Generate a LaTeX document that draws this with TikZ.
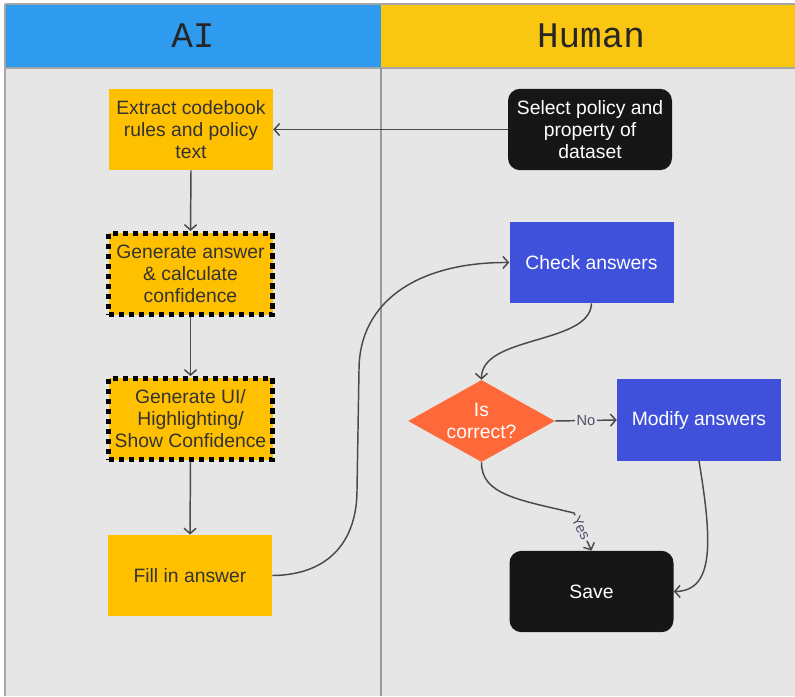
\documentclass[tikz,border=0pt]{standalone}
\usepackage{fontspec}
\setmainfont{Liberation Sans}
\newfontfamily\lanefont{Liberation Mono}
\usetikzlibrary{shapes.geometric,arrows.meta}
\definecolor{laneblue}{HTML}{2E9BEF}
\definecolor{laneyellow}{HTML}{F9C712}
\definecolor{lanegray}{HTML}{E6E6E6}
\definecolor{boxyellow}{HTML}{FFC000}
\definecolor{boxblue}{HTML}{3F51DB}
\definecolor{boxorange}{HTML}{FF6838}
\definecolor{boxblack}{HTML}{161616}
\definecolor{linkgray}{HTML}{4A4A4A}
\definecolor{labelgray}{HTML}{50506E}

\begin{document}
\begin{tikzpicture}[x=0.75pt,y=-0.75pt,
  box/.style={minimum width=123pt,minimum height=61pt,inner sep=2pt,align=center,
    font=\fontsize{14.5}{16.5}\selectfont},
  aibox/.style={box,fill=boxyellow,text=black!80},
  checkbox/.style={aibox,draw=black,line width=3.5pt,dash pattern=on 4pt off 3.5pt},
  humanbox/.style={box,fill=boxblue,text=white},
  darkbox/.style={box,fill=boxblack,text=white,rounded corners=9pt},
  decision/.style={shape=diamond,aspect=1.8,inner sep=0pt,minimum width=110pt,minimum height=61.5pt,
    fill=boxorange,text=white,align=center,font=\fontsize{14.5}{16.5}\selectfont},
  link/.style={draw=linkgray,line width=1.1pt,-{Straight Barb[length=4pt,width=9pt]}},
  lbl/.style={fill=lanegray,text=labelgray,inner sep=1.5pt,font=\fontsize{11}{12}\selectfont}]
\useasboundingbox (0,0) rectangle (795,696);

% lanes
\fill[laneblue] (5,4) rectangle (381,68);
\fill[laneyellow] (381,4) rectangle (795,68);
\fill[lanegray] (5,68) rectangle (795,696);
\draw[black!35,line width=0.8pt] (5,4) -- (795,4);
\draw[black!35,line width=0.8pt] (5,68) -- (795,68);
\draw[black!35,line width=0.8pt] (5,4) -- (5,696);
\draw[black!40,line width=1.1pt] (381,68) -- (381,696);
\node[font=\lanefont\fontsize{27}{30}\selectfont,text=black!85] (ai) at (193,36) {AI};
\node[font=\lanefont\fontsize{27}{30}\selectfont,text=black!85] (human) at (591,36) {Human};

% AI lane
\node[aibox] (extract) at (191,129.5) {Extract codebook\\rules and policy\\text};
\node[checkbox] (genanswer) at (190.5,274) {Generate answer\\\& calculate\\confidence};
\node[checkbox] (genui) at (190.5,419) {Generate UI/\\Highlighting/\\Show Confidence};
\node[aibox] (fillin) at (190,575.5) {Fill in answer};

% Human lane
\node[darkbox] (select) at (590,129.5) {Select policy and\\property of\\dataset};
\node[humanbox] (checkans) at (591.5,262.5) {Check answers};
\node[decision] (iscorrect) at (481.5,421) {Is\\correct?};
\node[humanbox] (modify) at (699,420) {Modify answers};
\node[darkbox] (save) at (591.5,591.5) {Save};

% connectors
\draw[link] (select) -- (extract);
\draw[link] (extract.south) -- (genanswer.north);
\draw[link] (genanswer.south) -- (genui.north);
\draw[link] (genui.south) -- (fillin.north);
\draw[link] (fillin.east) .. controls (330,575) and (357,540) .. (357,490)
  -- (359,370) .. controls (359,300) and (420,262) .. (checkans.west);
\draw[link] (checkans.south) .. controls (590,345) and (481,335) .. (iscorrect.north);
\draw[link] (iscorrect.east) -- node[lbl] {No} (modify.west);
\draw[link] (iscorrect.south) .. controls (481,495) and (520,500) .. (574,513)
  -- node[lbl,rotate=-62,pos=0.4] {Yes} (save.north);
\draw[link] (modify.south) .. controls (712,540) and (715,591) .. (save.east);
\end{tikzpicture}
\end{document}
